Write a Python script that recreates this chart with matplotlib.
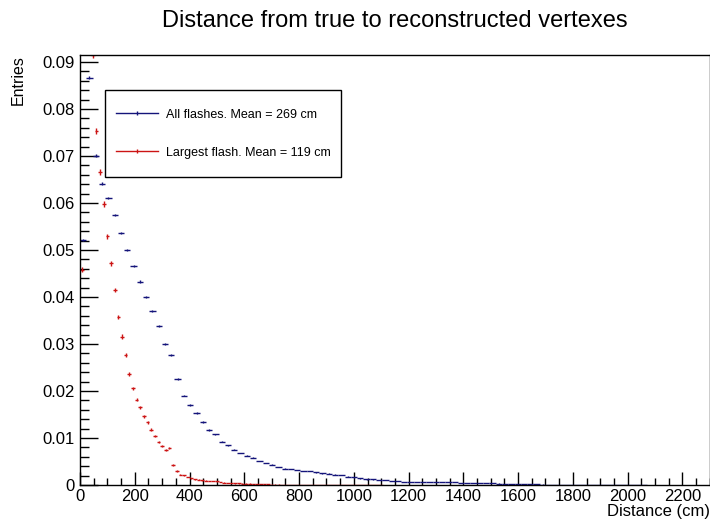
import numpy as np
import matplotlib
matplotlib.use("Agg")
import matplotlib.pyplot as plt
from matplotlib.ticker import MultipleLocator
from matplotlib.lines import Line2D
from matplotlib.legend_handler import HandlerLine2D

plt.rcParams['font.family'] = ['Liberation Sans', 'DejaVu Sans']

# all flashes: 23 cm bins starting at 0
blue_bin = 23.0
blue_vals = [
    0.0522, 0.0867, 0.0701, 0.0641, 0.0611, 0.0575, 0.0536, 0.0500, 0.0466, 0.0433,
    0.0401, 0.0370, 0.0338, 0.0300, 0.0276, 0.0225, 0.0190, 0.0170, 0.0153, 0.0134,
    0.0117, 0.0108, 0.0092, 0.0085, 0.0075, 0.0068, 0.0062, 0.0058, 0.0051, 0.0047,
    0.0043, 0.0038, 0.0035, 0.0034, 0.0032, 0.0030, 0.0030, 0.0027, 0.0025, 0.0024,
    0.0022, 0.0021, 0.0018, 0.0016, 0.0014, 0.0012, 0.0012, 0.0011, 0.0010, 0.00085,
    0.0008, 0.0007, 0.00068, 0.00064, 0.00064, 0.00062, 0.0006, 0.0006, 0.0006, 0.00058,
    0.0005, 0.00043, 0.0005, 0.0005, 0.0004, 0.00035, 0.0003, 0.0002, 0.00018, 0.00015,
    0.00015, 0.00012, 0.00015, 0.0001, 0.00007, 0.00006, 0.00006, 0.00006, 0.00006, 0.00006,
    0.00006, 0.00006, 0.00006, 0.00006, 0.00006, 0.00006, 0.00006, 0.00006, 0.00006, 0.00006,
]

# largest flash: 2000/150 cm bins starting at 0
red_bin = 2000.0 / 150
red_vals = [
    0.0458, 0.1000, 0.0990, 0.0915, 0.0753, 0.0666, 0.0598, 0.0529, 0.0472, 0.0415,
    0.0357, 0.0316, 0.0277, 0.0236, 0.0206, 0.0181, 0.0165, 0.0146, 0.0133, 0.0118,
    0.0104, 0.0091, 0.0082, 0.0075, 0.0079, 0.0043, 0.0030, 0.0022, 0.0021, 0.0017,
    0.0014, 0.0012, 0.0011, 0.0010, 0.0009, 0.00085, 0.00085, 0.0008, 0.0006, 0.0005,
    0.0004, 0.0004, 0.00035, 0.00035, 0.0003, 0.0003, 0.0003, 0.00025, 0.0002, 0.0002,
    0.00015, 0.00012, 0.0001, 0.0001, 0.0001, 0.00008, 0.00008, 0.00008, 0.00008, 0.00006,
    0.00006, 0.00005, 0.00005, 0.00005, 0.00005, 0.00005, 0.00005, 0.00005, 0.00005, 0.00005,
    0.00005, 0.00005, 0.00005, 0.00005, 0.00005, 0.00005, 0.00005, 0.00005, 0.00005, 0.00005,
    0.00005, 0.00005, 0.00005,
]

blue_label = "All flashes. Mean = 269 cm"
red_label = "Largest flash. Mean = 119 cm"
blue_col = '#14147a'
red_col = '#cc1414'


class CenteredLine(HandlerLine2D):
    # put the legend line level with the middle of the text
    def create_artists(self, legend, orig_handle, xdescent, ydescent,
                       width, height, fontsize, trans):
        return super().create_artists(legend, orig_handle, xdescent, ydescent + 5.5,
                                      width, height, fontsize, trans)


fig = plt.figure(figsize=(7.1, 5.25), dpi=100)
ax = fig.add_axes([0.1127, 0.0762, 0.887, 0.819])

bv = np.array(blue_vals)
bx = (np.arange(len(bv)) + 0.5) * blue_bin
rv = np.array(red_vals)
rx = (np.arange(len(rv)) + 0.5) * red_bin

# poisson-like error bars, as ROOT draws with option E
ax.errorbar(bx, bv, xerr=blue_bin / 2, yerr=np.sqrt(bv) * 0.0011,
            fmt='none', ecolor=blue_col, elinewidth=1.0, capsize=0)
ax.errorbar(rx, rv, xerr=red_bin / 2, yerr=np.sqrt(rv) * 0.0024,
            fmt='none', ecolor=red_col, elinewidth=1.0, capsize=0)

ax.set_xlim(0, 2300)
ax.set_ylim(0, 0.0915)

ax.xaxis.set_major_locator(MultipleLocator(200))
ax.xaxis.set_minor_locator(MultipleLocator(50))
ax.yaxis.set_minor_locator(MultipleLocator(0.002))
ax.set_yticks(np.arange(0, 0.091, 0.01))
ax.set_yticklabels(['0'] + ['%.2f' % v for v in np.arange(0.01, 0.091, 0.01)])

ax.tick_params(axis='both', which='both', direction='in', top=False, right=False,
               labelsize=12, width=1, color='black')
ax.tick_params(axis='x', which='major', length=9.5, pad=3)
ax.tick_params(axis='x', which='minor', length=5)
ax.tick_params(axis='y', which='major', length=13, pad=4)
ax.tick_params(axis='y', which='minor', length=6.5)
for s in ax.spines.values():
    s.set_linewidth(1)

ax.set_xlabel("Distance (cm)", fontsize=12, loc='right', labelpad=0)
ax.set_ylabel("Entries", fontsize=11.5, loc='top', labelpad=12)
fig.text(0.556, 0.96, "Distance from true to reconstructed vertexes",
         ha='center', va='center', fontsize=17)

handles = [
    Line2D([], [], color=blue_col, lw=1, marker='|', markersize=2.5),
    Line2D([], [], color=red_col, lw=1, marker='|', markersize=3.5),
]
leg = ax.legend(handles, [blue_label, red_label], loc='upper left',
                bbox_to_anchor=(0.0397, 0.7256, 0.3746, 0.193), mode='expand',
                borderaxespad=0, fancybox=False, edgecolor='black', framealpha=1,
                fontsize=9, handlelength=3.4, handleheight=3.0, handletextpad=0.64,
                labelspacing=0.85, borderpad=0.85,
                handler_map={Line2D: CenteredLine()})
leg.get_frame().set_linewidth(1)

fig.savefig("out.png", dpi=100)
